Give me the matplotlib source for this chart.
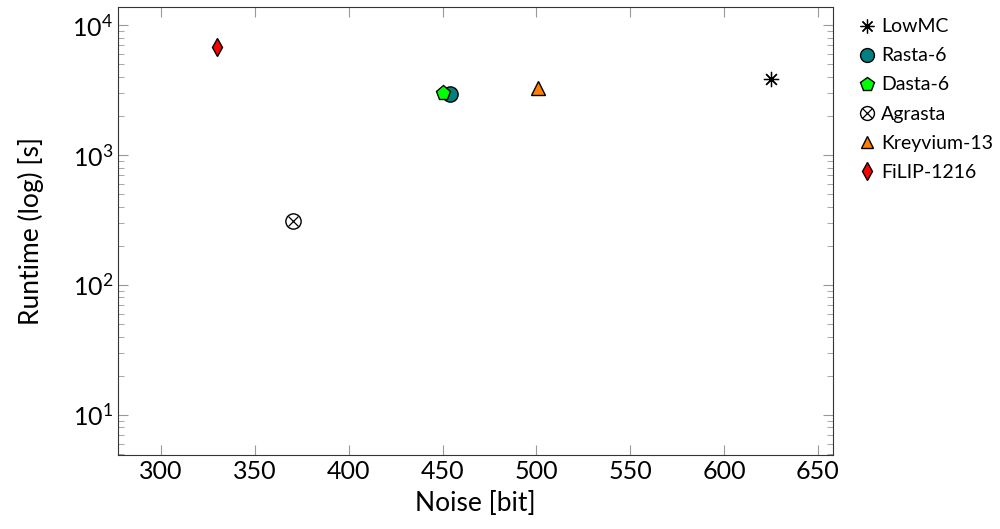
import matplotlib
matplotlib.use("Agg")
import matplotlib.pyplot as plt
from matplotlib.lines import Line2D

plt.rcParams['font.family'] = ['Lato', 'DejaVu Sans']

# data
schemes = ["LowMC", "Rasta-6", "Dasta-6", "Agrasta", "Kreyvium-13", "FiLIP-1216"]
noise_bits = [625, 454, 450, 370, 501, 330]
runtime_s = [3850, 2950, 3000, 310, 3250, 6800]

fig = plt.figure(figsize=(10, 5.29), dpi=100)
ax = fig.add_axes([0.118, 0.140, 0.715, 0.847])

ms = 10
handles = []

# LowMC: asterisk
ax.plot(noise_bits[0], runtime_s[0], linestyle='none', marker=(8, 2, 0),
        markersize=ms + 1, color='black', markeredgewidth=0.9)
handles.append(Line2D([], [], linestyle='none', marker=(8, 2, 0),
                      markersize=ms, color='black', markeredgewidth=0.9))

# Rasta-6: teal circle
ax.plot(noise_bits[1], runtime_s[1], linestyle='none', marker='o',
        markersize=ms + 1, markerfacecolor='#008080', markeredgecolor='black')
handles.append(Line2D([], [], linestyle='none', marker='o', markersize=ms,
                      markerfacecolor='#008080', markeredgecolor='black'))

# Dasta-6: green pentagon
ax.plot(noise_bits[2], runtime_s[2], linestyle='none', marker='p',
        markersize=ms + 1, markerfacecolor='#00ff00', markeredgecolor='black')
handles.append(Line2D([], [], linestyle='none', marker='p', markersize=ms,
                      markerfacecolor='#00ff00', markeredgecolor='black'))

# Agrasta: circle with cross
ax.plot(noise_bits[3], runtime_s[3], linestyle='none', marker='o',
        markersize=ms + 1, markerfacecolor='white', markeredgecolor='black')
ax.plot(noise_bits[3], runtime_s[3], linestyle='none', marker='x',
        markersize=ms - 3, color='black', markeredgewidth=0.9)
h_o = Line2D([], [], linestyle='none', marker='o', markersize=ms,
             markerfacecolor='white', markeredgecolor='black')
h_x = Line2D([], [], linestyle='none', marker='x', markersize=ms - 3,
             color='black', markeredgewidth=0.9)
handles.append((h_o, h_x))

# Kreyvium-13: orange triangle
ax.plot(noise_bits[4], runtime_s[4], linestyle='none', marker='^',
        markersize=ms, markerfacecolor='#ff8000', markeredgecolor='black')
handles.append(Line2D([], [], linestyle='none', marker='^', markersize=ms - 1,
                      markerfacecolor='#ff8000', markeredgecolor='black'))

# FiLIP-1216: red diamond
ax.plot(noise_bits[5], runtime_s[5], linestyle='none', marker='d',
        markersize=ms - 1, markerfacecolor='#ff0000', markeredgecolor='black')
handles.append(Line2D([], [], linestyle='none', marker='d', markersize=ms - 1,
                      markerfacecolor='#ff0000', markeredgecolor='black'))

ax.set_yscale('log')
ax.set_xlim(277, 658)
ax.set_ylim(4.9, 1.38e4)
ax.set_xticks([300, 350, 400, 450, 500, 550, 600, 650])

ax.set_xlabel("Noise [bit]", fontsize=19, labelpad=6)
ax.set_ylabel("Runtime (log) [s]", fontsize=19, labelpad=20)

ax.tick_params(which='both', direction='in', top=True, right=True,
               color='#999999', labelsize=18)
ax.tick_params(which='major', length=7)
ax.tick_params(which='minor', length=4)
for sp in ax.spines.values():
    sp.set_color('#333333')

fig.legend(handles, schemes, loc='upper left', bbox_to_anchor=(0.850, 0.98),
           frameon=False, fontsize=14, handlelength=0.9, handletextpad=0.3,
           labelspacing=0.62, borderaxespad=0)

fig.savefig("out.png", dpi=100)
